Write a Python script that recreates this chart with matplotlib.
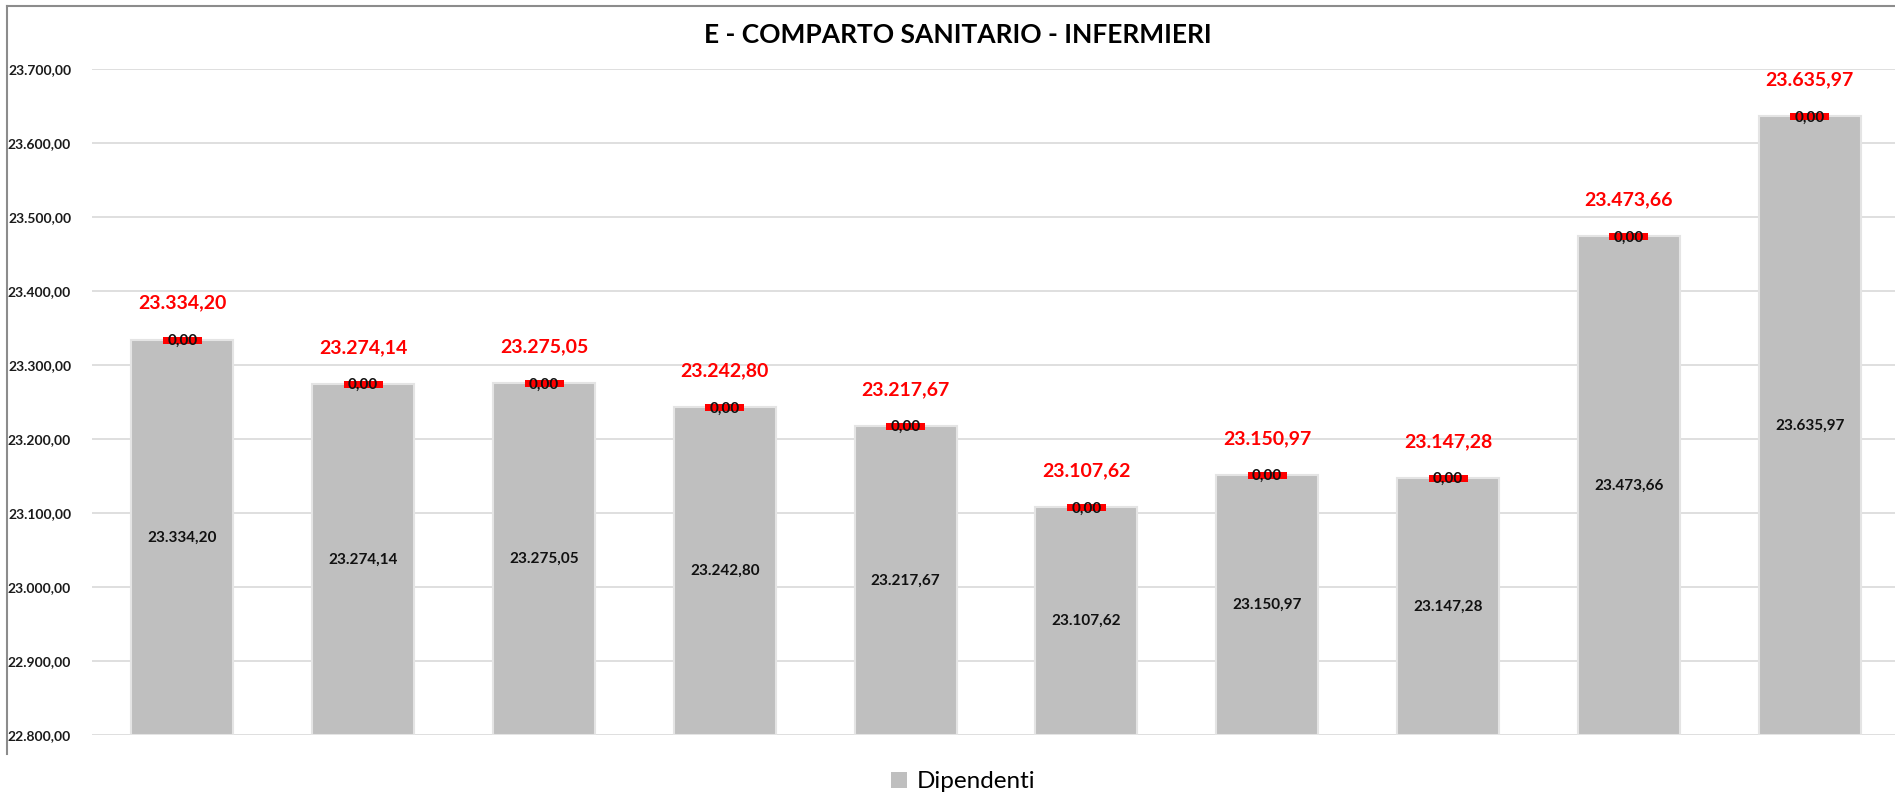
import matplotlib
matplotlib.use("Agg")
import matplotlib.pyplot as plt
from matplotlib.lines import Line2D
from matplotlib.patches import Patch

title = "E - COMPARTO SANITARIO - INFERMIERI"
series_name = "Dipendenti"
categories = ["1", "2", "3", "4", "5", "6", "7", "8", "9", "10"]
dipendenti = [23334.20, 23274.14, 23275.05, 23242.80, 23217.67,
              23107.62, 23150.97, 23147.28, 23473.66, 23635.97]
extra = [0, 0, 0, 0, 0, 0, 0, 0, 0, 0]
y_ticks = [22800, 22900, 23000, 23100, 23200, 23300, 23400, 23500, 23600, 23700]

plt.rcParams['font.family'] = ['Lato', 'DejaVu Sans']

def it(v):
    return f"{v:,.2f}".replace(",", "X").replace(".", ",").replace("X", ".")

W, H = 1895, 808
fig = plt.figure(figsize=(W / 100, H / 100), dpi=100)
ax_h_px = 735 - 69
ax = fig.add_axes([92 / W, 1 - 735 / H, 1808 / W, ax_h_px / H])

ymin, ymax = y_ticks[0], y_ticks[-1]
px_per_unit_y = ax_h_px / (ymax - ymin)
px_per_unit_x = 1808 / len(categories)

x = list(range(len(categories)))
ax.bar(x, [v - ymin for v in dipendenti], bottom=ymin, width=0.565,
       color="#bfbfbf", edgecolor="#e4e4e4", linewidth=1.5, zorder=2)

# red label boxes for the zero-valued series (size in pixels converted to data units)
box_h = 7 / px_per_unit_y
box_w = 39 / px_per_unit_x
tops = [v + e for v, e in zip(dipendenti, extra)]
ax.bar(x, [box_h] * len(x), bottom=[t - box_h * 0.55 for t in tops], width=box_w,
       color="#ff0000", linewidth=0, zorder=4)

ax.set_ylim(ymin, ymax)
ax.set_xlim(-0.5, len(categories) - 0.5)
ax.set_yticks(y_ticks)
ax.set_yticklabels([it(t) for t in y_ticks], fontsize=10, fontweight="bold", color="#1a1a1a")
ax.tick_params(axis="y", length=0, pad=15)
ax.set_xticks([])
ax.grid(axis="y", color="#d9d9d9", linewidth=1.2, zorder=0)
for s in ax.spines.values():
    s.set_visible(False)

for i, (v, e, top) in enumerate(zip(dipendenti, extra, tops)):
    ax.text(i, (ymin + v) / 2, it(v), ha="center", va="center",
            fontsize=11, fontweight="bold", color="#111111", zorder=4)
    ax.annotate(it(e), (i, top), xytext=(0, -1), textcoords="offset pixels",
                ha="center", va="center", fontsize=11, fontweight="bold",
                color="#111111", zorder=5)
    ax.annotate(it(top), (i, top), xytext=(0, 36.5), textcoords="offset pixels",
                ha="center", va="center", fontsize=14, fontweight="bold",
                color="#ff0000", zorder=5, annotation_clip=False)

fig.text(958 / W, 1 - 35 / H, title, ha="center", va="center",
         fontsize=19, fontweight="bold", color="#000000")

handle = Patch(facecolor="#bfbfbf", edgecolor="none")
fig.legend([handle], [series_name], loc="center", bbox_to_anchor=(963 / W, 1 - 782 / H),
           frameon=False, fontsize=17.5, handlelength=0.65, handleheight=0.65,
           handletextpad=0.4)

# chart border (top and left)
fig.add_artist(Line2D([7 / W, 1], [1 - 6 / H, 1 - 6 / H], color="#8c8c8c", linewidth=1.5))
fig.add_artist(Line2D([7 / W, 7 / W], [1 - 6 / H, 1 - 754 / H], color="#8c8c8c", linewidth=1.5))

fig.savefig("out.png", dpi=100, facecolor="white")
